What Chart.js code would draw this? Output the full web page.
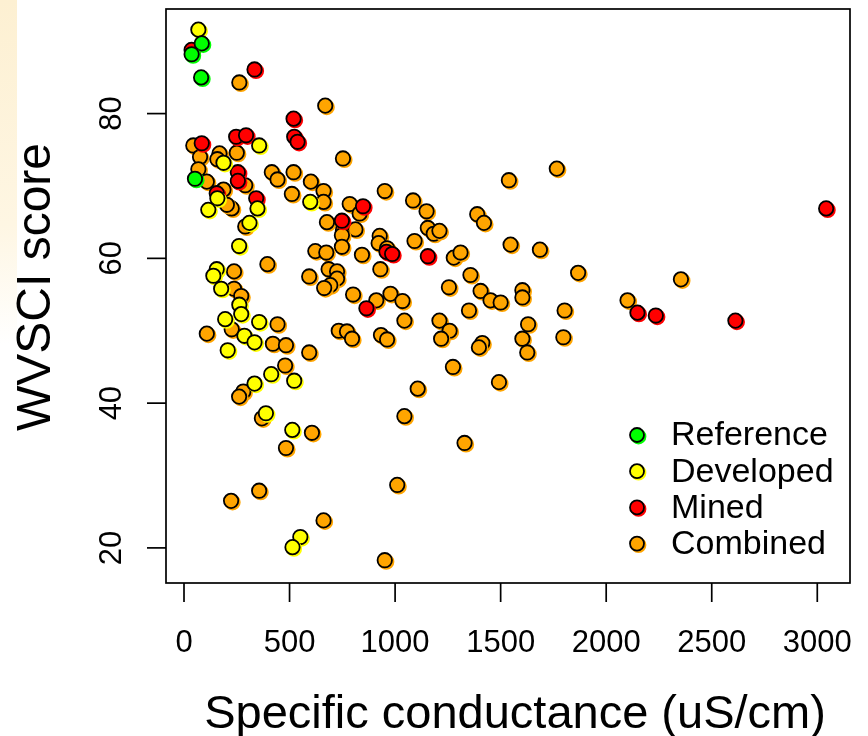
<!DOCTYPE html>
<html>
<head>
<meta charset="utf-8">
<script src="https://cdn.jsdelivr.net/npm/chart.js@4.4.1/dist/chart.umd.min.js"></script>
<style>
  html, body { margin: 0; padding: 0; background: #fff; }
  body { width: 868px; height: 736px; overflow: hidden; position: relative; }
  .smudge {
    position: absolute; left: 0; top: 0; width: 17px; height: 345px;
    background: linear-gradient(to bottom, #fdf0d2 0%, #fef6e3 65%, rgba(255,255,255,0) 100%);
  }
  canvas { position: absolute; left: 0; top: 0; }
</style>
</head>
<body>
<div class="smudge"></div>
<canvas id="chart" width="868" height="736"></canvas>
<script>
// groups in legend order
const groups = ['Reference', 'Developed', 'Mined', 'Combined'];
const groupColors = ['#00ff00', '#ffff00', '#ff0000', '#ffa500'];

const xTicks = [0, 500, 1000, 1500, 2000, 2500, 3000];
const yTicks = [20, 40, 60, 80];

// specific conductance (uS/cm) and WVSCI score, one pair of arrays per group
const referenceSC = [84, 36, 81, 52];
const referenceScore = [89.7, 88.2, 85.0, 71.0];

const developedSC = [68, 356, 187, 158, 598, 115, 348, 310, 261, 155,
  139, 176, 262, 271, 195, 356, 286, 334, 207, 413,
  522, 334, 388, 513, 551, 514];
const developedScore = [91.6, 75.6, 73.2, 68.3, 67.8, 66.7, 66.9, 64.9, 61.7, 58.5,
  57.6, 55.8, 53.6, 52.3, 51.6, 51.2, 49.3, 48.4, 47.3, 44.0,
  43.1, 42.7, 38.6, 36.3, 21.5, 20.1];

const minedSC = [36, 334, 519, 522, 538, 247, 294, 84, 255, 255,
  155, 342, 848, 748, 959, 986, 1155, 864, 2148, 2235,
  2612, 3042];
const minedScore = [88.8, 86.1, 79.3, 76.8, 76.1, 76.8, 77.0, 75.9, 71.9, 70.7,
  69.0, 68.3, 67.2, 65.2, 60.9, 60.6, 60.3, 53.1, 52.5, 52.1,
  51.4, 66.9];

const combinedSC = [262, 669, 44, 76, 168, 158, 250, 753, 68, 108,
  290, 416, 443, 519, 601, 661, 951, 187, 511, 661,
  785, 832, 1085, 226, 203, 290, 677, 753, 812, 748,
  748, 927, 922, 962, 1092, 622, 674, 843, 930, 395,
  237, 237, 271, 226, 443, 108, 421, 483, 593, 593,
  685, 725, 725, 693, 664, 801, 911, 978, 1035, 1044,
  733, 772, 796, 933, 962, 479, 281, 261, 369, 606,
  483, 1044, 1010, 356, 223, 661, 951, 1766, 1539, 1149,
  1389, 1421, 1155, 1183, 1210, 1278, 1310, 1547, 1686, 1357,
  1867, 1255, 1405, 1452, 1500, 1603, 1603, 2101, 1350, 1803,
  1210, 1258, 1218, 1630, 1603, 1797, 1413, 1397, 1626, 1274,
  1492, 1107, 1329, 2354];
const combinedScore = [84.3, 81.1, 75.6, 74.0, 74.5, 73.7, 74.6, 73.8, 72.3, 70.6,
  70.1, 71.9, 70.9, 71.9, 70.6, 69.3, 69.3, 69.5, 68.9, 67.8,
  67.5, 66.2, 68.0, 66.9, 67.4, 64.4, 65.0, 63.9, 64.0, 63.2,
  61.6, 63.1, 62.1, 61.4, 62.4, 61.0, 60.8, 60.5, 58.5, 59.2,
  58.2, 55.8, 54.8, 50.2, 50.9, 49.6, 48.2, 48.0, 47.0, 57.5,
  58.5, 58.2, 57.2, 56.3, 55.9, 55.0, 54.2, 55.1, 54.1, 51.4,
  50.0, 49.9, 48.9, 49.4, 48.8, 45.2, 41.6, 40.9, 37.9, 35.9,
  33.8, 38.2, 28.7, 27.9, 26.5, 23.8, 18.3, 72.4, 70.8, 66.5,
  66.1, 64.9, 64.2, 63.4, 63.8, 60.1, 60.8, 61.9, 61.2, 57.7,
  58.0, 56.0, 55.5, 54.2, 53.9, 55.6, 54.6, 54.2, 52.8, 52.8,
  51.4, 50.0, 48.9, 50.9, 48.9, 49.1, 48.3, 47.7, 47.0, 45.0,
  42.9, 42.0, 34.5, 57.1];

const groupSC = [referenceSC, developedSC, minedSC, combinedSC];
const groupScore = [referenceScore, developedScore, minedScore, combinedScore];

const FONT = '"Liberation Sans", Arial, Helvetica, sans-serif';

function drawDot(ctx, x, y, color) {
  ctx.save();
  ctx.shadowColor = color;
  ctx.shadowOffsetX = 1.5;
  ctx.shadowOffsetY = 1.5;
  ctx.beginPath();
  ctx.arc(x, y, 7, 0, Math.PI * 2);
  ctx.fillStyle = color;
  ctx.fill();
  ctx.lineWidth = 1.8;
  ctx.strokeStyle = '#000';
  ctx.stroke();
  ctx.restore();
}

// R style frame: box, outside ticks, rotated y labels, legend inside the plot
const rFrame = {
  id: 'rFrame',
  beforeDatasetDraw(chart, args) {
    const ctx = chart.ctx;
    ctx.save();
    ctx.shadowColor = chart.data.datasets[args.index].backgroundColor;
    ctx.shadowOffsetX = 1.5;
    ctx.shadowOffsetY = 1.5;
  },
  afterDatasetDraw(chart) {
    chart.ctx.restore();
  },
  afterDraw(chart) {
    const ctx = chart.ctx;
    const a = chart.chartArea;
    const xs = chart.scales.x;
    const ys = chart.scales.y;

    ctx.save();
    ctx.strokeStyle = '#000';
    ctx.fillStyle = '#000';
    ctx.lineWidth = 1.7;
    ctx.strokeRect(a.left, a.top, a.right - a.left, a.bottom - a.top);

    ctx.font = '31px ' + FONT;
    ctx.textAlign = 'center';
    ctx.textBaseline = 'middle';
    xTicks.forEach(v => {
      const px = xs.getPixelForValue(v);
      ctx.beginPath();
      ctx.moveTo(px, a.bottom);
      ctx.lineTo(px, a.bottom + 19);
      ctx.stroke();
      ctx.fillText(String(v), px, a.bottom + 60);
    });
    yTicks.forEach(v => {
      const py = ys.getPixelForValue(v);
      ctx.beginPath();
      ctx.moveTo(a.left - 19, py);
      ctx.lineTo(a.left, py);
      ctx.stroke();
      ctx.save();
      ctx.translate(a.left - 54, py);
      ctx.rotate(-Math.PI / 2);
      ctx.fillText(String(v), 0, 0);
      ctx.restore();
    });

    // axis titles
    ctx.textBaseline = 'alphabetic';
    ctx.font = '47px ' + FONT;
    ctx.fillText('Specific conductance (uS/cm)', 515, 728);
    ctx.save();
    ctx.font = '48px ' + FONT;
    ctx.translate(50, 287);
    ctx.rotate(-Math.PI / 2);
    ctx.fillText('WVSCI score', 0, 0);
    ctx.restore();

    // legend
    ctx.font = '34px ' + FONT;
    ctx.textAlign = 'left';
    ctx.textBaseline = 'middle';
    chart.data.datasets.forEach((ds, i) => {
      const cy = 435 + i * 36.2;
      drawDot(ctx, 637, cy, ds.backgroundColor);
      ctx.fillStyle = '#000';
      ctx.fillText(ds.label, 671, cy + 1);
    });
    ctx.restore();
  }
};

const ctx = document.getElementById('chart').getContext('2d');
window.scChart = new Chart(ctx, {
  type: 'scatter',
  data: {
    datasets: groups.map((g, i) => ({
      label: g,
      data: groupSC[i].map((v, j) => ({ x: v, y: groupScore[i][j] })),
      backgroundColor: groupColors[i],
      borderColor: '#000',
      borderWidth: 1.8,
      pointRadius: 7.2,
      pointHoverRadius: 7.2
    }))
  },
  options: {
    responsive: false,
    animation: false,
    events: [],
    layout: { padding: { left: 166, top: 8, right: 18, bottom: 153 } },
    plugins: {
      legend: { display: false },
      tooltip: { enabled: false }
    },
    scales: {
      x: { type: 'linear', display: false, min: -85.3, max: 3155 },
      y: { type: 'linear', display: false, min: 15.15, max: 94.45 }
    }
  },
  plugins: [rFrame]
});
</script>
</body>
</html>
